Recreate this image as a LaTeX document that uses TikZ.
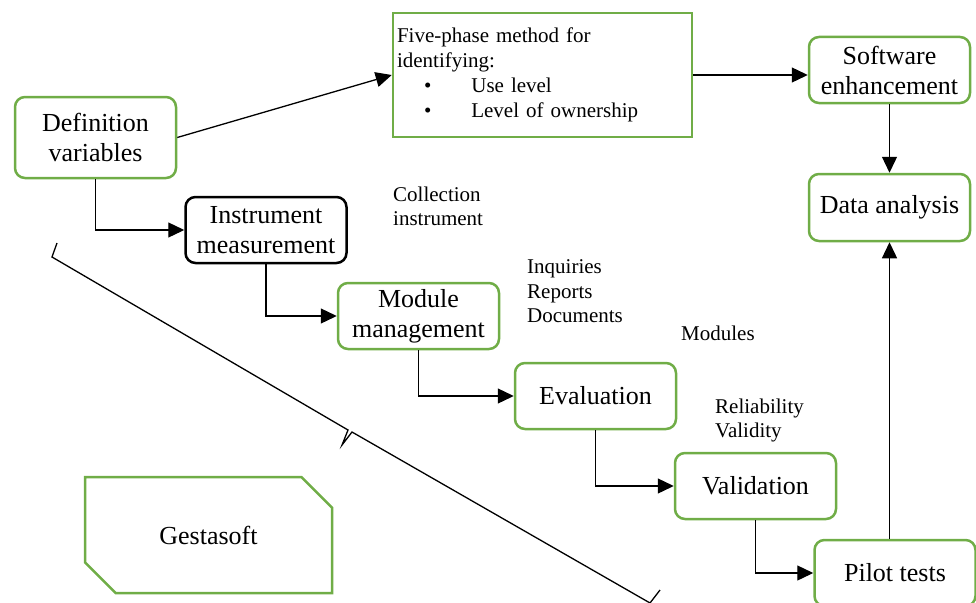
\documentclass[tikz,border=0pt]{standalone}
\usepackage{fontspec}
\setmainfont{Liberation Serif}
\usetikzlibrary{arrows.meta,shapes.misc}
\definecolor{boxgreen}{HTML}{70AD47}

\begin{document}
\begin{tikzpicture}[x=1pt,y=-1pt,
  box/.style={draw=boxgreen,line width=2.5pt,rounded corners=10pt,minimum width=161pt,minimum height=66pt,align=center,inner sep=1pt,font=\fontsize{26}{30}\selectfont},
  note/.style={anchor=north west,inner sep=0pt,align=left,font=\fontsize{21}{24.5}\selectfont},
  arr/.style={line width=1.3pt,-{Triangle[length=16pt,width=15pt]}}]
\useasboundingbox (0,0) rectangle (976,602);
\clip (0,0) rectangle (976,602);
\node[box,minimum height=81pt] (def) at (95.5,137.5) {Definition\\variables};
\node[box,draw=black] (instr) at (266,230) {Instrument\\measurement};
\node[box] (mod) at (418.5,316) {Module\\management};
\node[box] (eval) at (595.5,396) {Evaluation};
\node[box] (valid) at (755.5,486) {Validation};
\node[box] (pilot) at (895,573) {Pilot tests};
\node[box] (soft) at (889.5,70) {Software\\enhancement};
\node[box,minimum height=67pt] (data) at (889.5,207.5) {Data analysis};
\node[draw=boxgreen,line width=2.5pt,minimum width=299pt,minimum height=124pt,text width=291pt,align=left,inner xsep=4pt,font=\fontsize{21}{25}\selectfont] (five) at (542.5,75)
  {Five-phase method for\\identifying:\\\hspace*{27pt}\textbullet\hspace{40pt}Use level\\\hspace*{27pt}\textbullet\hspace{40pt}Level of ownership};
\node[chamfered rectangle,chamfered rectangle corners={north east,south west},chamfered rectangle xsep=20pt,chamfered rectangle ysep=18pt,draw=boxgreen,line width=2.5pt,minimum width=247pt,minimum height=116pt,font=\fontsize{26}{30}\selectfont] (gesta) at (208.5,535) {Gestasoft};

%labels beside the steps
\node[note] (coll) at (393,186.5) {Collection\\instrument};
\node[note] (inq) at (527,259.5) {Inquiries\\Reports\\Documents};
\node[note] (modl) at (681,325.5) {Modules};
\node[note] (rel) at (715,398.5) {Reliability\\Validity};

\draw[arr] (def.east) -- (five.west);
\draw[arr] (five.east) -- (soft.west |- five.east);
\draw[arr] (soft.south) -- (data.north);
\draw[arr] (pilot.north -| data.south) -- (data.south);
\draw[arr] (def.south) |- (instr.west);
\draw[arr] (instr.south) |- (mod.west);
\draw[arr] (mod.south) |- (eval.west);
\draw[arr] (eval.south) |- (valid.west);
\draw[arr] (valid.south) |- (pilot.west);
%the brace
\draw[line width=1.3pt] (57,243) -- (52,257) -- (348,430) -- (342,445) -- (352,432) -- (650,603) -- (660,590);
\end{tikzpicture}
\end{document}
